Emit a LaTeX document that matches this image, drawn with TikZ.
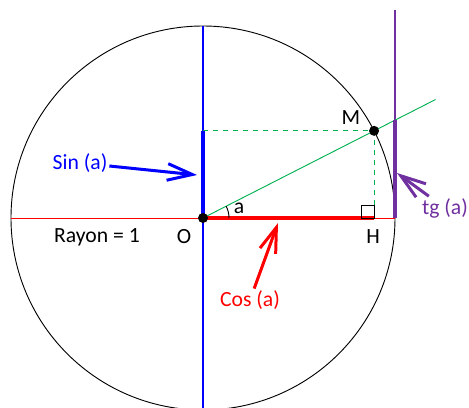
\documentclass[tikz,border=0pt]{standalone}
\usepackage{fontspec}
\setmainfont{Carlito}
\usetikzlibrary{arrows.meta, positioning, calc}
\definecolor{sinblue}{RGB}{0,0,255}
\definecolor{cosred}{RGB}{255,0,0}
\definecolor{tgpurple}{RGB}{112,48,160}
\definecolor{raygreen}{RGB}{0,176,80}

\begin{document}
\begin{tikzpicture}[
  x=0.6pt, y=0.6pt,
  thinln/.style = {line width=0.55pt},
  axisln/.style = {line width=0.7pt},
  seg/.style    = {line width=2.6pt},
  lbl/.style    = {font=\fontsize{13}{15}\selectfont, inner sep=1pt},
  arr/.style    = {-{Straight Barb[length=15pt,width=10pt]}, line width=1.8pt},
  dot/.style    = {circle, fill=black, inner sep=0pt, minimum size=6pt},
]
\def\R{192}
\def\ang{27}

%% frame of the picture
\clip (-203,-189) rectangle (266,218);

%% points
\coordinate (O) at (0,0);
\coordinate (M) at (\ang:\R);
\coordinate (H) at (M |- O);
\coordinate (S) at (O |- M);
\coordinate (T) at (\R,{\R*tan(\ang)});
\coordinate (E) at (\R,0);

%% circle and axes
\draw[thinln] (O) circle (\R);
\draw[axisln, sinblue] (0,\R) -- (0,-\R);
\draw[thinln, cosred] (-\R,0) -- (E);
\draw[axisln, tgpurple] (E) -- (\R,208);
\draw[thinln, raygreen] (O) -- (\ang:261);
\draw[thinln, raygreen, dashed] (S) -- (M) -- (H);

%% sin, cos, tg
\draw[seg, sinblue] (O) -- (S);
\draw[seg, cosred] (O) -- (H);
\draw[seg, tgpurple] (E) -- (T);

%% right angle and angle a
\draw[thinln] ($(H)+(-13,0)$) rectangle ($(H)+(0,13)$);
\draw[thinln] (26,0) arc (0:\ang:26);

\node[dot] (odot) at (O) {};
\node[dot] (mdot) at (M) {};

%% labels
\node[lbl] (mlbl) at (148,100) {M};
\node[lbl] (olbl) at (-19,-19) {O};
\node[lbl] (hlbl) at (170,-19) {H};
\node[lbl] (rlbl) at (-106,-19) {Rayon = 1};
\node[lbl] (albl) at (36,10) {a};
\node[lbl, text=sinblue]  (sinlbl) at (-123,55) {Sin (a)};
\node[lbl, text=cosred]   (coslbl) at (47,-82)  {Cos (a)};
\node[lbl, text=tgpurple] (tglbl)  at (242,10)  {tg (a)};

%% arrows
\coordinate (sintip) at (-6,43);
\coordinate (costip) at (75,-5);
\coordinate (tgtip)  at (194,45);
\draw[arr, sinblue]  (sinlbl) -- (sintip);
\draw[arr, cosred]   (coslbl) -- (costip);
\draw[arr, tgpurple] (tglbl)  -- (tgtip);

\end{tikzpicture}
\end{document}
